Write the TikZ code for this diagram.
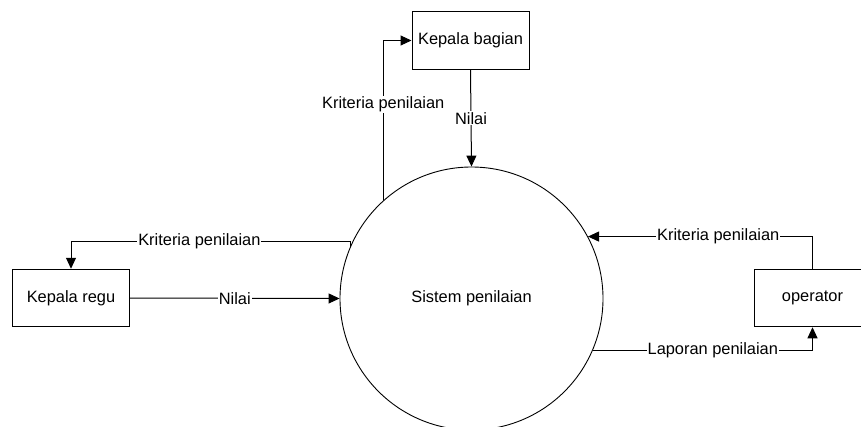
\documentclass[tikz,border=0pt]{standalone}
\usepackage{fontspec}
\setmainfont{Liberation Sans}
\usetikzlibrary{arrows.meta}
\begin{document}
\begin{tikzpicture}[x=1pt,y=-1pt,
  font=\fontsize{16.4}{19}\selectfont,
  ent/.style={draw,line width=1pt,minimum width=117pt,minimum height=57.5pt,inner sep=0pt},
  proc/.style={draw,line width=0.9pt,circle,minimum size=263pt,inner sep=0pt},
  flow/.style={line width=1pt,-{Triangle[length=11pt,width=10pt]}},
  lbl/.style={fill=white,inner sep=1pt}]
\useasboundingbox (0,0) rectangle (861,426);
\node[proc] (sys) at (471.5,298.5) {Sistem penilaian};
\node[ent] (kb) at (470.5,40.5) {Kepala bagian};
\node[ent] (kr) at (71,298) {Kepala regu};
\node[ent] (op) at (812.5,298) {operator};
% Kepala bagian
\draw[flow] (kb.south) -- node[lbl] (l1) {Nilai} (sys.north);
\draw[flow] (sys.132.9) |- node[lbl,pos=0.3] (l2) {Kriteria penilaian} (kb.west);
% Kepala regu
\draw[flow] (kr.east) -- node[lbl] (l3) {Nilai} (sys.west);
\draw[flow] (sys.157.8) -- (sys.157.8 |- 0,241) -- node[lbl,pos=0.54] (l4) {Kriteria penilaian} (kr.north |- 0,241) -- (kr.north);
% operator
\draw[flow] (op.north) |- node[lbl,pos=0.71] (l5) {Kriteria penilaian} (sys.28.9);
\draw[flow] (sys.-23.06) -| node[lbl,pos=0.273] (l6) {Laporan penilaian} (op.south);
\end{tikzpicture}
\end{document}
